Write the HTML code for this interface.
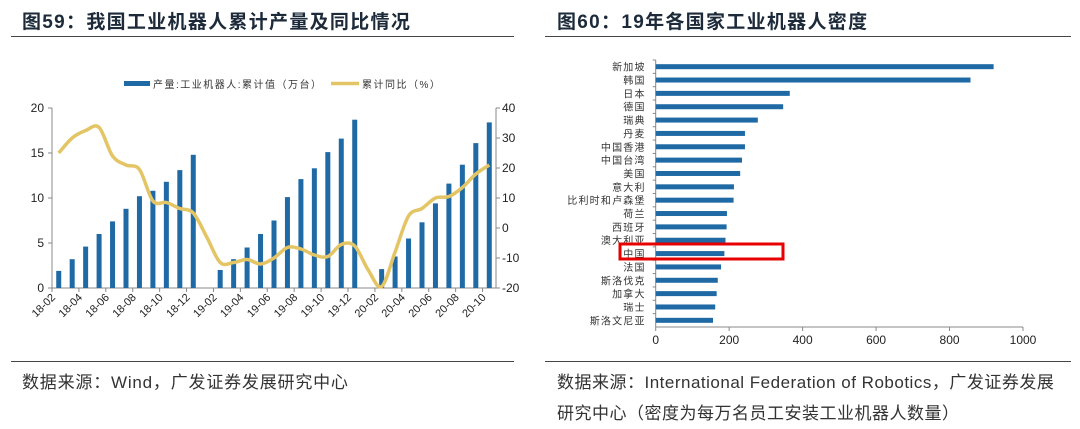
<!DOCTYPE html>
<html><head><meta charset="utf-8"><style>
body{margin:0;width:1080px;height:423px;background:#fff;overflow:hidden;font-family:"Liberation Sans","Noto Sans CJK SC",sans-serif;}
.t{position:absolute;font-weight:bold;font-size:19px;color:#1c2a3a;top:7px;letter-spacing:1.3px;}
.hl{position:absolute;height:1px;background:#444;}
.src{position:absolute;font-size:17px;color:#333;letter-spacing:0.5px;}
svg{position:absolute;left:0;top:0;}
</style></head><body>
<div class="t" style="left:22px">图59：我国工业机器人累计产量及同比情况</div>
<div class="t" style="left:557px">图60：19年各国家工业机器人密度</div>
<div class="hl" style="left:11px;width:503px;top:36px"></div>
<div class="hl" style="left:545px;width:526px;top:36px"></div>
<div class="hl" style="left:11px;width:503px;top:361px"></div>
<div class="hl" style="left:545px;width:526px;top:361px"></div>
<div class="src" style="left:22px;top:368px;letter-spacing:0.8px">数据来源：Wind，广发证券发展研究中心</div>
<div class="src" style="left:557px;top:367px;line-height:31px">数据来源：International Federation of Robotics，广发证券发展<br>研究中心（密度为每万名员工安装工业机器人数量）</div>
<svg id="c" width="1080" height="423"></svg>
<script>
const months=["18-02","18-03","18-04","18-05","18-06","18-07","18-08","18-09","18-10","18-11","18-12","19-01","19-02","19-03","19-04","19-05","19-06","19-07","19-08","19-09","19-10","19-11","19-12","20-01","20-02","20-03","20-04","20-05","20-06","20-07","20-08","20-09","20-10"];
const output=[1.9,3.2,4.6,6.0,7.4,8.8,10.2,10.8,11.8,13.1,14.8,null,2.0,3.2,4.5,6.0,7.5,10.1,12.1,13.3,15.1,16.6,18.7,null,2.1,3.5,5.5,7.3,9.4,11.6,13.7,16.1,18.4];
const yoy=[25,30,32.5,33.5,24,21,19.5,9,8.5,6.5,5,-3,-11.5,-11.5,-10.5,-12,-10,-6.5,-7,-9,-9.5,-5.5,-6,-14,-19.5,-8,4,6.5,10,10.5,13.5,18,21];
const leftTicks=[0,5,10,15,20];
const rightTicks=[-20,-10,0,10,20,30,40];
const countries=["新加坡","韩国","日本","德国","瑞典","丹麦","中国香港","中国台湾","美国","意大利","比利时和卢森堡","荷兰","西班牙","澳大利亚","中国","法国","斯洛伐克","加拿大","瑞士","斯洛文尼亚"];
const density=[920,857,365,347,278,243,243,235,230,213,212,194,193,190,187,178,169,166,162,156];
const densTicks=[0,200,400,600,800,1000];
const svg=document.getElementById('c');const NS="http://www.w3.org/2000/svg";
function mk(t,a,txt){const e=document.createElementNS(NS,t);for(const k in a)e.setAttribute(k,a[k]);if(txt!=null)e.textContent=txt;svg.appendChild(e);return e;}
const L=52,R=496,T=108,B=288,n=months.length,step=(R-L)/n;
const xc=i=>L+step*(i+0.5), yl=v=>B-(v/20)*(B-T), yr=v=>B-((v+20)/60)*(B-T);
let e;
e=mk('line',{x1:L,y1:T,x2:L,y2:B,stroke:'#888'});
e=mk('line',{x1:R,y1:T,x2:R,y2:B,stroke:'#888'});
e=mk('line',{x1:L,y1:B,x2:R,y2:B,stroke:'#888'});
leftTicks.forEach(v=>{mk('line',{x1:L-4,y1:yl(v),x2:L,y2:yl(v),stroke:'#888'});e=mk('text',{x:L-8,y:yl(v)+4,'text-anchor':'end','font-size':12,fill:'#222'},v);});
rightTicks.forEach(v=>{mk('line',{x1:R,y1:yr(v),x2:R+4,y2:yr(v),stroke:'#888'});e=mk('text',{x:R+6,y:yr(v)+4,'font-size':12,fill:'#222'},v);});
months.forEach((m,i)=>{if(i%2)return;const x=L+step*i;mk('line',{x1:x,y1:B,x2:x,y2:B+4,stroke:'#888'});e=mk('text',{x:x+4,y:B+10,'text-anchor':'end','font-size':11,fill:'#222',transform:`rotate(-45 ${x+4} ${B+10})`},m);});
output.forEach((v,i)=>{if(v==null)return;e=mk('rect',{x:xc(i)-2.5,y:yl(v),width:5,height:B-yl(v),fill:'#1f6aa5'});});
const pts=yoy.map((v,i)=>[xc(i),yr(v)]);let d=`M${pts[0][0]},${pts[0][1]}`;
for(let i=0;i<pts.length-1;i++){const p0=pts[Math.max(0,i-1)],p1=pts[i],p2=pts[i+1],p3=pts[Math.min(pts.length-1,i+2)];
d+=` C${p1[0]+(p2[0]-p0[0])/6},${p1[1]+(p2[1]-p0[1])/6} ${p2[0]-(p3[0]-p1[0])/6},${p2[1]-(p3[1]-p1[1])/6} ${p2[0]},${p2[1]}`;}
e=mk('path',{d:d,fill:'none',stroke:'#e3c565','stroke-width':3.5});
e=mk('rect',{x:124,y:81,width:26,height:5,fill:'#1f6aa5'});
e=mk('text',{x:153,y:88,'font-size':10,fill:'#333','letter-spacing':1.5},'产量:工业机器人:累计值（万台）');
e=mk('line',{x1:331,y1:83.5,x2:359,y2:83.5,stroke:'#e3c565','stroke-width':3.5});
e=mk('text',{x:362,y:88,'font-size':10,fill:'#333','letter-spacing':1.5},'累计同比（%）');
const L2=655.7,R2=1023,T2=60,B2=327,m2=countries.length,st2=(B2-T2)/m2;
const xd=v=>L2+(v/1000)*(R2-L2), yc=i=>T2+st2*(i+0.5);
e=mk('line',{x1:L2,y1:T2,x2:L2,y2:B2,stroke:'#888'});
e=mk('line',{x1:L2,y1:B2,x2:R2,y2:B2,stroke:'#888'});
densTicks.forEach(v=>{mk('line',{x1:xd(v),y1:B2,x2:xd(v),y2:B2+4,stroke:'#888'});e=mk('text',{x:xd(v),y:B2+17,'text-anchor':'middle','font-size':12,fill:'#222'},v);});
countries.forEach((c,i)=>{mk('line',{x1:L2-3,y1:T2+st2*i,x2:L2,y2:T2+st2*i,stroke:'#888'});
e=mk('text',{x:L2-10,y:yc(i)+4,'text-anchor':'end','font-size':10,fill:'#333','letter-spacing':1.2},c);
e=mk('rect',{x:L2,y:yc(i)-2.5,width:xd(density[i])-L2,height:5,fill:'#1f6aa5'});});
e=mk('rect',{x:620,y:244,width:163,height:15,fill:'none',stroke:'#e60000','stroke-width':3});
</script>
</body></html>
